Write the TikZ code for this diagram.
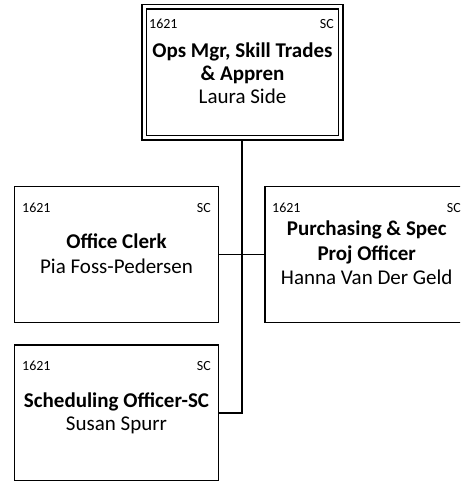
\documentclass[tikz,border=0pt]{standalone}
\usepackage{fontspec}
\setmainfont{Carlito}
\usetikzlibrary{backgrounds}
\begin{document}
\begin{tikzpicture}[x=1pt,y=-1pt,
  posbox/.style={draw=black,fill=white,line width=1.5pt,minimum width=204pt,minimum height=136pt,inner sep=0pt},
  headbox/.style={draw=black,fill=white,line width=1.5pt,double=white,double distance=3pt,minimum width=196.5pt,minimum height=131pt,inner sep=0pt},
  num/.style={font=\fontsize{14}{17}\selectfont,inner sep=0pt},
  title/.style={font=\fontsize{21}{25}\selectfont\bfseries,inner sep=0pt,anchor=base},
  person/.style={font=\fontsize{21}{25}\selectfont,inner sep=0pt,anchor=base},
  link/.style={line width=1.8pt}]
\useasboundingbox (0,0) rectangle (460,481);
\clip (0,0) rectangle (460,481);

% Boxes
\node[headbox] (mgr) at (242.25,72.5) {};
\node[posbox] (clerk) at (116.5,254.5) {};
\node[posbox] (purch) at (366.75,254.5) {};
\node[posbox] (sched) at (116.5,412.75) {};

% Connectors
\begin{scope}[on background layer]
\draw[link] (mgr.south) |- (sched.east);
\draw[link] (clerk.east) -- (purch.west);
\end{scope}

% Manager
\node[num,anchor=base west] (mgr-code) at (149,29) {1621};
\node[num,anchor=base east] (mgr-unit) at (334,29) {SC};
\node[title] (mgr-t1) at (242.5,58) {Ops Mgr, Skill Trades};
\node[title] (mgr-t2) at (242.5,81) {\& Appren};
\node[person] (mgr-name) at (242.5,104) {Laura Side};

% Office clerk
\node[num,anchor=base west] (clerk-code) at (22,212) {1621};
\node[num,anchor=base east] (clerk-unit) at (211,212) {SC};
\node[title] (clerk-t1) at (116.5,248) {Office Clerk};
\node[person] (clerk-name) at (116.5,273) {Pia Foss-Pedersen};

% Purchasing
\node[num,anchor=base west] (purch-code) at (272,212) {1621};
\node[num,anchor=base east] (purch-unit) at (461,212) {SC};
\node[title] (purch-t1) at (366.75,235) {Purchasing \& Spec};
\node[title] (purch-t2) at (366.75,260) {Proj Officer};
\node[person] (purch-name) at (366.75,284) {Hanna Van Der Geld};

% Scheduling
\node[num,anchor=base west] (sched-code) at (22,370) {1621};
\node[num,anchor=base east] (sched-unit) at (211,370) {SC};
\node[title] (sched-t1) at (116.5,407) {Scheduling Officer-SC};
\node[person] (sched-name) at (116.5,430) {Susan Spurr};
\end{tikzpicture}
\end{document}
